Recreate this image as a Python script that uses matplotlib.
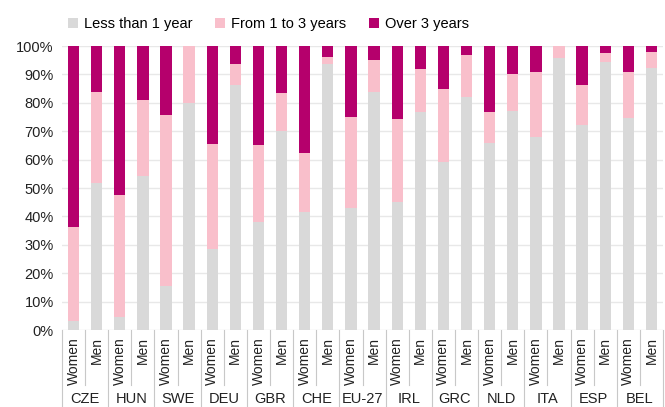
import matplotlib.pyplot as plt
import numpy as np

plt.rcParams['font.family'] = ['Liberation Sans', 'DejaVu Sans']

countries = ['CZE', 'HUN', 'SWE', 'DEU', 'GBR', 'CHE', 'EU-27',
             'IRL', 'GRC', 'NLD', 'ITA', 'ESP', 'BEL']
genders = ['Women', 'Men']

# shares in %, order: Women, Men for each country
less_1y = [3, 51.7, 4.7, 54.2, 15.6, 79.9, 28.6, 86.4, 38.2, 70.0, 41.6, 93.5,
           43.1, 83.7, 44.9, 76.7, 59.0, 81.9, 65.7, 77.0, 67.8, 95.8, 72.1, 94.5,
           74.5, 92.1]
from_1_3y = [33.2, 32.1, 42.7, 26.9, 60.0, 20.1, 36.9, 7.4, 27.0, 13.5, 20.9, 2.6,
             31.9, 11.5, 29.5, 15.2, 25.7, 14.8, 11.2, 13.0, 23.2, 4.2, 14.2, 3.1,
             16.3, 5.7]
over_3y = [100 - a - b for a, b in zip(less_1y, from_1_3y)]

c_less = '#d9d9d9'
c_mid = '#f9bfcb'
c_over = '#b5006c'

fig = plt.figure(figsize=(6.65, 4.07), dpi=100)
ax = fig.add_axes([62 / 665, 77 / 407, 601 / 665, 284 / 407])

x = np.arange(len(less_1y))
w = 0.49
ax.bar(x, less_1y, w, color=c_less, label='Less than 1 year', zorder=2)
ax.bar(x, from_1_3y, w, bottom=less_1y, color=c_mid, label='From 1 to 3 years', zorder=2)
bot2 = [a + b for a, b in zip(less_1y, from_1_3y)]
ax.bar(x, over_3y, w, bottom=bot2, color=c_over, label='Over 3 years', zorder=2)

ax.set_xlim(-0.5, len(x) - 0.5)
ax.set_ylim(0, 100)
ax.set_yticks(np.arange(0, 101, 10))
ax.set_yticklabels([f'{v}%' for v in range(0, 101, 10)])
ax.yaxis.grid(True, color='#e8e8e8', linewidth=1, zorder=0)
ax.tick_params(axis='y', length=0, pad=6, labelsize=10.5, colors='#222222')

ax.set_xticks(x)
ax.set_xticklabels(genders * len(countries), rotation=90)
ax.tick_params(axis='x', length=0, pad=5, labelsize=10, colors='#222222')

for s in ax.spines.values():
    s.set_visible(False)

# group separators under the axis
tr = ax.get_xaxis_transform()
for k in range(len(x) + 1):
    xe = k - 0.5
    y_end = -0.275 if k % 2 == 0 else -0.195
    ax.plot([xe, xe], [0, y_end], color='#c8c8c8', linewidth=0.8,
            transform=tr, clip_on=False)

for i, c in enumerate(countries):
    ax.text(2 * i + 0.5, -0.266, c, transform=tr, ha='center', va='bottom',
            fontsize=10.5, color='#222222')

fig.legend(loc='upper left', bbox_to_anchor=(0.083, 0.99), ncol=3, frameon=False,
           handlelength=0.65, handleheight=0.65, handletextpad=0.4,
           columnspacing=1.6, fontsize=10.5)

fig.savefig('out.png', dpi=100)
